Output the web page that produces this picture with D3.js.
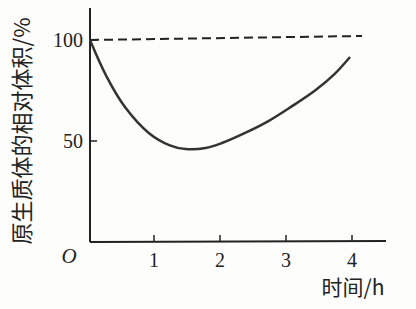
<!DOCTYPE html>
<html><head><meta charset="utf-8">
<script src="https://cdn.jsdelivr.net/npm/d3@7"></script>
<style>body{margin:0;background:#fdfdfb}svg{display:block}</style>
</head><body>
<script>
const times = [0, 0.25, 0.53, 0.89, 1.2, 1.45, 1.75, 2.0, 2.35, 2.71, 3.05, 3.41, 3.7, 3.94];
const volumes = [100, 82, 66.8, 54, 48, 46, 46.5, 49, 54, 60, 67, 75, 83, 91.6];
const xTicks = [1, 2, 3, 4];
const yTicks = [50, 100];
const refLevel = [100];
const yLabel = "原生质体的相对体积/%";
const xLabel = "时间/h";

const W = 416, H = 309;
const svg = d3.select("body").append("svg").attr("width", W).attr("height", H);
const x = d3.scaleLinear().domain([0, 4]).range([88, 352]);
const y = d3.scaleLinear().domain([0, 100]).range([242, 40]);
const ink = "#222";
const serif = "'Liberation Serif','DejaVu Serif',serif";

// axes lines
svg.append("line").attr("x1", x(0)+2).attr("x2", x(0)+2).attr("y1", 8).attr("y2", y(0))
  .attr("stroke", ink).attr("stroke-width", 2);
svg.append("line").attr("x1", x(0)+2).attr("x2", 386).attr("y1", y(0)).attr("y2", y(0)-1)
  .attr("stroke", ink).attr("stroke-width", 2);

// x ticks
const xa = svg.append("g");
xa.selectAll("line").data(xTicks).join("line")
  .attr("x1", d => x(d)).attr("x2", d => x(d)).attr("y1", y(0)).attr("y2", y(0)-7)
  .attr("stroke", ink).attr("stroke-width", 1.5);
xa.selectAll("text").data(xTicks).join("text")
  .attr("x", d => x(d)).attr("y", 267).attr("text-anchor", "middle")
  .attr("font-family", serif).attr("font-size", 20).attr("fill", ink).text(d => d);

// y ticks
const ya = svg.append("g");
ya.selectAll("line").data(yTicks).join("line")
  .attr("x1", x(0)+2).attr("x2", x(0)+9).attr("y1", d => y(d)).attr("y2", d => y(d))
  .attr("stroke", ink).attr("stroke-width", 1.5);
ya.selectAll("text").data(yTicks).join("text")
  .attr("x", 83).attr("y", d => y(d)+7).attr("text-anchor", "end")
  .attr("font-family", serif).attr("font-size", 20).attr("fill", ink).text(d => d);

// origin
svg.append("text").attr("x", 69).attr("y", 263).attr("text-anchor", "middle")
  .attr("font-family", serif).attr("font-style", "italic").attr("font-size", 21)
  .attr("fill", ink).text("O");

// dashed reference line
svg.selectAll(".ref").data(refLevel).join("line").attr("class", "ref")
  .attr("x1", x(0)+2).attr("x2", 362).attr("y1", d => y(d)).attr("y2", d => y(d) - 4)
  .attr("stroke", ink).attr("stroke-width", 2).attr("stroke-dasharray", "9,5");

// curve
const pts = times.map((t, i) => [t, volumes[i]]);
svg.append("path").datum(pts)
  .attr("d", d3.line().x(d => x(d[0]) + 2).y(d => y(d[1])).curve(d3.curveCatmullRom.alpha(0.5)))
  .attr("fill", "none").attr("stroke", "#333").attr("stroke-width", 2.5);

// labels
svg.append("text").attr("transform", "translate(30,131) rotate(-90)")
  .attr("text-anchor", "middle").attr("font-family", "'Noto Sans CJK SC',sans-serif")
  .attr("font-size", 22).attr("fill", ink).text(yLabel);
svg.append("text").attr("x", 353).attr("y", 295).attr("text-anchor", "middle")
  .attr("font-family", "'Noto Sans CJK SC',sans-serif").attr("font-size", 21)
  .attr("fill", ink).text(xLabel);
</script>
</body></html>
